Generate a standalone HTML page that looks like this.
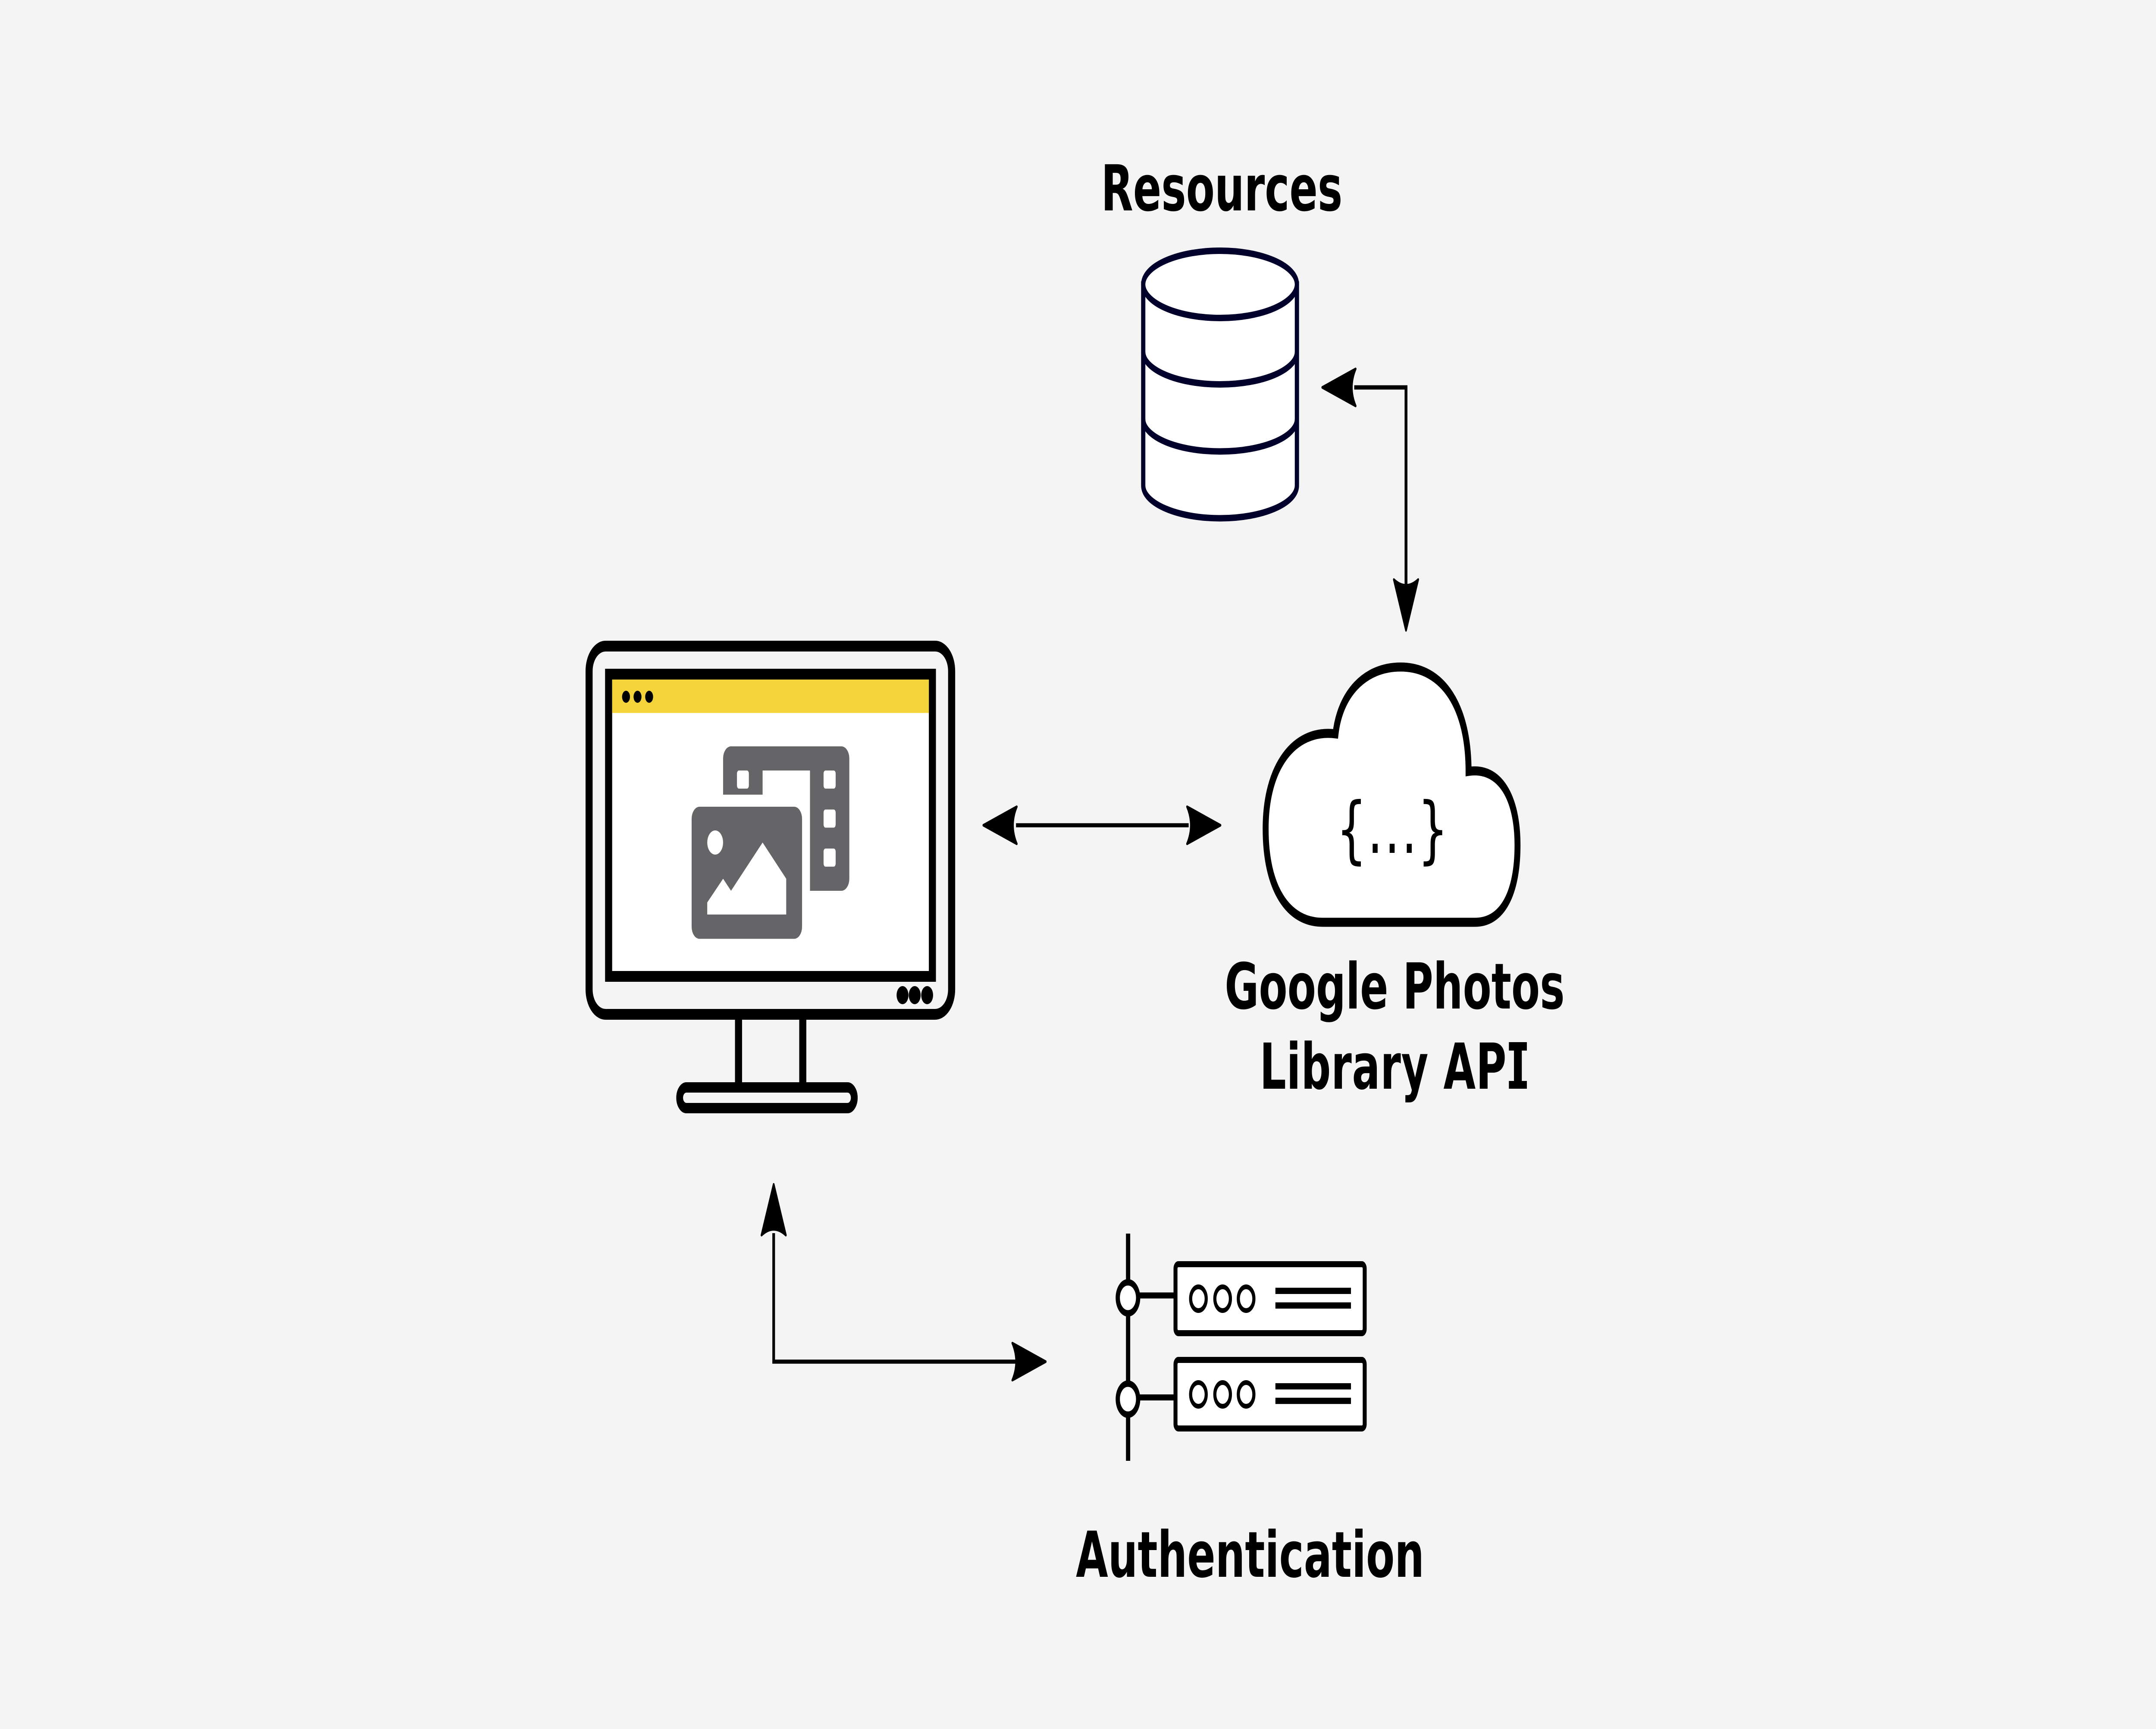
<!DOCTYPE html>
<html>
<head>
<meta charset="utf-8">
<style>
html,body{margin:0;padding:0;background:#f4f4f4;width:100%;height:100%;overflow:hidden}
svg{display:block;width:100vw;height:100vh}
text{font-family:"DejaVu Sans",sans-serif}
.l{font-weight:bold;font-size:147px;text-anchor:middle;fill:#000}
.s{font-weight:bold;font-size:147px;fill:#000}
</style>
</head>
<body>
<svg xmlns="http://www.w3.org/2000/svg" viewBox="0 0 7618 4010" preserveAspectRatio="none">
<defs>
<path id="ah" d="M-3 0 L-121 -43 Q-94 0 -121 43 Z" fill="#000" stroke="#000" stroke-width="6" stroke-linejoin="round"/>
</defs>
<rect width="7618" height="4010" fill="#f4f4f4"/>

<!-- Monitor -->
<rect x="2081.5" y="1498.5" width="1281" height="854" rx="58" ry="58" fill="#f4f4f4" stroke="#000" stroke-width="25"/>
<rect x="2150.5" y="1563.5" width="1144" height="701" fill="#fff" stroke="#000" stroke-width="25"/>
<rect x="2163" y="1576" width="1119" height="77.5" fill="#f5d33a"/>
<circle cx="2212" cy="1616" r="14" fill="#000"/>
<circle cx="2252.6" cy="1616" r="14" fill="#000"/>
<circle cx="2293.7" cy="1616" r="14" fill="#000"/>
<circle cx="3189" cy="2308" r="21" fill="#000"/>
<circle cx="3232" cy="2308" r="21" fill="#000"/>
<circle cx="3276" cy="2308" r="21" fill="#000"/>
<rect x="2597" y="2360" width="25" height="160" fill="#000"/>
<rect x="2824" y="2360" width="25" height="160" fill="#000"/>
<rect x="2401.5" y="2522" width="617" height="48" rx="24" ry="24" fill="#f4f4f4" stroke="#000" stroke-width="24"/>

<!-- Photo / film icon -->
<path fill="#656567" fill-rule="evenodd" d="M2583 1731 H2973 A28 28 0 0 1 3001 1759 V2038 A28 28 0 0 1 2973 2066 H2862 V1787 H2694.6 V1843 H2555 V1759 A28 28 0 0 1 2583 1731 Z"/>
<rect x="2604" y="1787" width="42" height="42" rx="7" fill="#fff"/>
<rect x="2910" y="1787" width="42.7" height="42" rx="7" fill="#fff"/>
<rect x="2910" y="1877.5" width="42.7" height="42" rx="7" fill="#fff"/>
<rect x="2910" y="1968" width="42.7" height="42" rx="7" fill="#fff"/>
<rect x="2443.8" y="1871" width="390.2" height="306.4" rx="28" ry="28" fill="#656567"/>
<circle cx="2527" cy="1954" r="28" fill="#fff"/>
<polygon points="2499,2121 2499,2093 2555,2038 2583,2066 2694.6,1954 2778,2038 2778,2121" fill="#fff"/>

<!-- Database -->
<g fill="#fff" stroke="#00002a" stroke-width="15">
<path d="M4039.5 660 V1126 C4039.5 1168 4161 1202 4311 1202 C4461 1202 4582.5 1168 4582.5 1126 V660 Z"/>
<ellipse cx="4311" cy="659.5" rx="271.5" ry="78"/>
<path fill="none" d="M4039.5 816 C4039.5 858 4161 891.5 4311 891.5 C4461 891.5 4582.5 858 4582.5 816"/>
<path fill="none" d="M4039.5 972 C4039.5 1014 4161 1047 4311 1047 C4461 1047 4582.5 1014 4582.5 972"/>
</g>

<!-- Cloud -->
<path fill="#fff" stroke="#000" stroke-width="21" stroke-linejoin="miter" d="M4673 2139 C4550 2139 4472 2060 4472 1922 C4472 1780 4570 1690 4719 1702 C4735 1610 4820 1547 4949 1547 C5100 1547 5189 1640 5189 1789 C5300 1778 5362 1850 5362 1960 C5362 2070 5310 2139 5212 2139 Z"/>
<text font-size="170" fill="#000" x="4721.5" y="1982">{</text>
<text font-size="170" fill="#000" x="4832" y="1978">.</text>
<text font-size="170" fill="#000" x="4892" y="1978">.</text>
<text font-size="170" fill="#000" x="4952.5" y="1978">.</text>
<text font-size="170" fill="#000" x="5009" y="1982">}</text>

<!-- Servers -->
<rect x="3978.5" y="2861" width="15" height="527" fill="#000"/>
<rect x="4020" y="2997.5" width="130" height="14" fill="#000"/>
<rect x="4020" y="3234" width="130" height="14" fill="#000"/>
<circle cx="3985.5" cy="3010" r="36" fill="#fff" stroke="#000" stroke-width="15"/>
<circle cx="3985.5" cy="3245" r="36" fill="#fff" stroke="#000" stroke-width="15"/>
<rect x="4153.5" y="2932" width="668.5" height="160" rx="10" fill="#fff" stroke="#000" stroke-width="14"/>
<rect x="4153.5" y="3154" width="668.5" height="159" rx="10" fill="#fff" stroke="#000" stroke-width="14"/>
<g fill="#fff" stroke="#000" stroke-width="11">
<circle cx="4234.5" cy="3012" r="27.5"/>
<circle cx="4320" cy="3012" r="27.5"/>
<circle cx="4403" cy="3012" r="27.5"/>
<circle cx="4234.5" cy="3234" r="27.5"/>
<circle cx="4320" cy="3234" r="27.5"/>
<circle cx="4403" cy="3234" r="27.5"/>
</g>
<g fill="#000">
<rect x="4506.5" y="2986.6" width="267" height="14.5"/>
<rect x="4506.5" y="3020.5" width="267" height="14.5"/>
<rect x="4506.5" y="3208" width="267" height="14.5"/>
<rect x="4506.5" y="3241.7" width="267" height="14.5"/>
</g>

<!-- Connectors -->
<path d="M4785 898.5 H4968 V1360" fill="none" stroke="#000" stroke-width="10"/>
<use href="#ah" transform="translate(4669 898.5) rotate(180)"/>
<use href="#ah" transform="translate(4968 1465) rotate(90)"/>
<path d="M3590 1914 H4200" fill="none" stroke="#000" stroke-width="9.5"/>
<use href="#ah" transform="translate(3471.6 1914) rotate(180)"/>
<use href="#ah" transform="translate(4315.4 1914)"/>
<path d="M2733.7 2860 V3158 H3590" fill="none" stroke="#000" stroke-width="9.5"/>
<use href="#ah" transform="translate(2733.7 2743.7) rotate(-90)"/>
<use href="#ah" transform="translate(3698 3158)"/>

<!-- Labels -->
<text class="l" x="4317" y="488">Resources</text>
<text class="l" x="4928" y="2339">Google Photos</text>
<text class="s" x="4451" y="2525" letter-spacing="1.1">Library AP<tspan x="5336">I</tspan></text>
<rect x="5331.5" y="2417" width="63.5" height="19.6" fill="#000"/>
<rect x="5331.5" y="2507" width="63.5" height="18" fill="#000"/>
<text class="l" x="4417" y="3657">Authentication</text>
</svg>
</body>
</html>
